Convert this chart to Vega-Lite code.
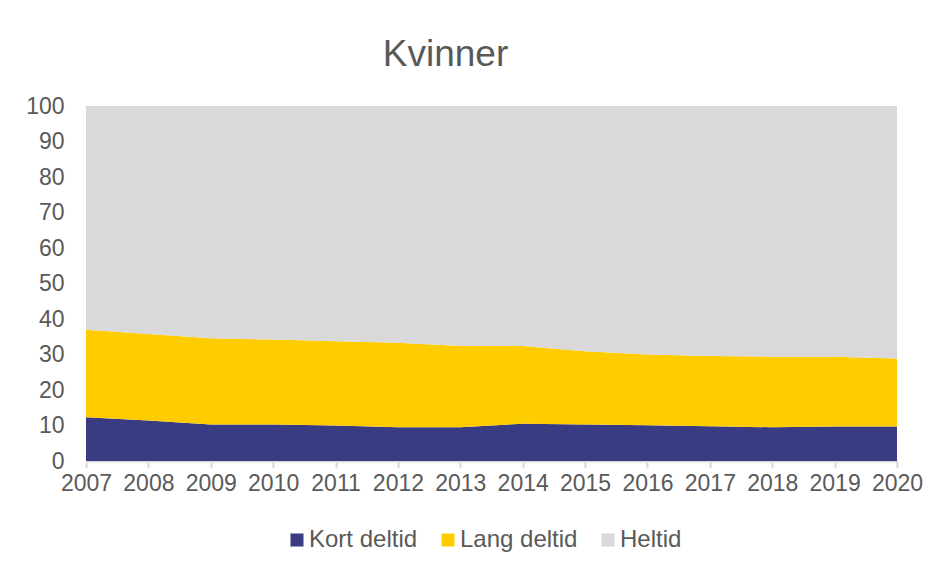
{
  "$schema": "https://vega.github.io/schema/vega-lite/v6.json",
  "width": 811,
  "height": 355,
  "autosize": "none",
  "padding": {"left": 86, "top": 106, "right": 51, "bottom": 111},
  "background": "white",
  "title": {
    "text": "Kvinner",
    "fontSize": 37,
    "font": "Liberation Sans",
    "fontWeight": "normal",
    "color": "#595959",
    "anchor": "middle",
    "dx": -46,
    "offset": 21
  },
  "data": {
    "values": [
      {"year": 2007, "type": "Kort deltid", "value": 12.3},
      {"year": 2008, "type": "Kort deltid", "value": 11.4},
      {"year": 2009, "type": "Kort deltid", "value": 10.3},
      {"year": 2010, "type": "Kort deltid", "value": 10.3},
      {"year": 2011, "type": "Kort deltid", "value": 10.0},
      {"year": 2012, "type": "Kort deltid", "value": 9.5},
      {"year": 2013, "type": "Kort deltid", "value": 9.5},
      {"year": 2014, "type": "Kort deltid", "value": 10.5},
      {"year": 2015, "type": "Kort deltid", "value": 10.3},
      {"year": 2016, "type": "Kort deltid", "value": 10.1},
      {"year": 2017, "type": "Kort deltid", "value": 9.8},
      {"year": 2018, "type": "Kort deltid", "value": 9.5},
      {"year": 2019, "type": "Kort deltid", "value": 9.7},
      {"year": 2020, "type": "Kort deltid", "value": 9.7},
      {"year": 2007, "type": "Lang deltid", "value": 24.7},
      {"year": 2008, "type": "Lang deltid", "value": 24.4},
      {"year": 2009, "type": "Lang deltid", "value": 24.3},
      {"year": 2010, "type": "Lang deltid", "value": 23.9},
      {"year": 2011, "type": "Lang deltid", "value": 23.7},
      {"year": 2012, "type": "Lang deltid", "value": 23.8},
      {"year": 2013, "type": "Lang deltid", "value": 22.9},
      {"year": 2014, "type": "Lang deltid", "value": 21.9},
      {"year": 2015, "type": "Lang deltid", "value": 20.6},
      {"year": 2016, "type": "Lang deltid", "value": 19.9},
      {"year": 2017, "type": "Lang deltid", "value": 19.8},
      {"year": 2018, "type": "Lang deltid", "value": 19.9},
      {"year": 2019, "type": "Lang deltid", "value": 19.7},
      {"year": 2020, "type": "Lang deltid", "value": 19.2},
      {"year": 2007, "type": "Heltid", "value": 63.0},
      {"year": 2008, "type": "Heltid", "value": 64.2},
      {"year": 2009, "type": "Heltid", "value": 65.4},
      {"year": 2010, "type": "Heltid", "value": 65.8},
      {"year": 2011, "type": "Heltid", "value": 66.3},
      {"year": 2012, "type": "Heltid", "value": 66.7},
      {"year": 2013, "type": "Heltid", "value": 67.6},
      {"year": 2014, "type": "Heltid", "value": 67.6},
      {"year": 2015, "type": "Heltid", "value": 69.1},
      {"year": 2016, "type": "Heltid", "value": 70.0},
      {"year": 2017, "type": "Heltid", "value": 70.4},
      {"year": 2018, "type": "Heltid", "value": 70.6},
      {"year": 2019, "type": "Heltid", "value": 70.6},
      {"year": 2020, "type": "Heltid", "value": 71.1}
    ]
  },
  "transform": [
    {"calculate": "indexof(['Kort deltid', 'Lang deltid', 'Heltid'], datum.type)", "as": "stackOrder"}
  ],
  "mark": {"type": "area", "interpolate": "linear"},
  "encoding": {
    "x": {
      "field": "year",
      "type": "quantitative",
      "scale": {"domain": [2007, 2020], "nice": false, "zero": false},
      "axis": {
        "title": null,
        "values": [2007, 2008, 2009, 2010, 2011, 2012, 2013, 2014, 2015, 2016, 2017, 2018, 2019, 2020],
        "format": "d",
        "grid": false,
        "domainColor": "#d9d9d9",
        "domainWidth": 2,
        "tickColor": "#d9d9d9",
        "tickWidth": 2,
        "tickSize": 7,
        "labelPadding": 4,
        "labelFontSize": 23,
        "labelFont": "Liberation Sans",
        "labelColor": "#595959",
        "labelFlush": false,
        "labelOverlap": false
      }
    },
    "y": {
      "field": "value",
      "type": "quantitative",
      "stack": "zero",
      "scale": {"domain": [0, 100], "nice": false},
      "axis": {
        "title": null,
        "values": [0, 10, 20, 30, 40, 50, 60, 70, 80, 90, 100],
        "grid": false,
        "domain": false,
        "ticks": false,
        "labelPadding": 22,
        "labelFontSize": 23,
        "labelFont": "Liberation Sans",
        "labelColor": "#595959"
      }
    },
    "order": {"field": "stackOrder", "type": "quantitative", "sort": "ascending"},
    "color": {
      "field": "type",
      "type": "nominal",
      "sort": ["Kort deltid", "Lang deltid", "Heltid"],
      "scale": {
        "domain": ["Kort deltid", "Lang deltid", "Heltid"],
        "range": ["#393c82", "#ffcc00", "#d9d9d9"]
      },
      "legend": {
        "title": null,
        "orient": "none",
        "direction": "horizontal",
        "legendX": 199,
        "legendY": 422,
        "symbolType": "square",
        "symbolSize": 170,
        "symbolStrokeWidth": 0,
        "labelFontSize": 24,
        "labelFont": "Liberation Sans",
        "labelColor": "#595959",
        "labelOffset": 0,
        "columnPadding": 18,
        "symbolOpacity": 1
      }
    }
  },
  "config": {
    "view": {"stroke": null}
  }
}
